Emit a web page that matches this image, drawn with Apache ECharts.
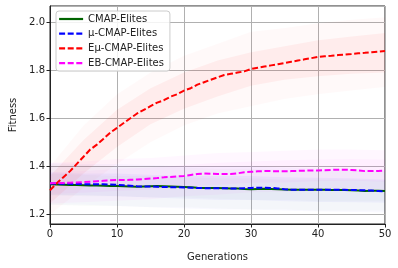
<!DOCTYPE html>
<html><head><meta charset="utf-8">
<script src="https://cdn.jsdelivr.net/npm/echarts@6/dist/echarts.min.js"></script>
<style>html,body{margin:0;padding:0;background:#fff}#c{width:398px;height:268px}</style>
</head><body><div id="c"></div>
<script>
// Generations (mean lines, one value per generation)
const generations = Array.from({length: 51}, (_, i) => i);
const cmapElites = [1.325,1.324,1.323,1.322,1.322,1.321,1.320,1.320,1.319,1.318,1.318,1.317,1.316,1.315,1.316,1.317,1.318,1.317,1.316,1.315,1.314,1.313,1.311,1.310,1.310,1.310,1.309,1.308,1.308,1.306,1.305,1.306,1.307,1.306,1.305,1.304,1.303,1.302,1.302,1.302,1.302,1.302,1.301,1.301,1.301,1.300,1.299,1.297,1.298,1.298,1.297];
const muCmapElites = [1.328,1.328,1.327,1.327,1.326,1.326,1.325,1.325,1.325,1.324,1.323,1.321,1.319,1.317,1.316,1.316,1.315,1.314,1.313,1.313,1.312,1.311,1.310,1.309,1.309,1.309,1.309,1.308,1.308,1.309,1.310,1.311,1.311,1.310,1.308,1.305,1.303,1.302,1.302,1.302,1.303,1.303,1.303,1.303,1.302,1.301,1.301,1.300,1.299,1.297,1.295];
const eMuCmapElites = [1.300,1.330,1.355,1.380,1.410,1.440,1.470,1.490,1.515,1.540,1.560,1.580,1.600,1.620,1.635,1.650,1.665,1.675,1.690,1.700,1.715,1.725,1.740,1.750,1.760,1.770,1.780,1.785,1.790,1.795,1.805,1.810,1.815,1.820,1.825,1.830,1.835,1.840,1.845,1.850,1.855,1.858,1.860,1.863,1.865,1.867,1.870,1.872,1.875,1.877,1.880];
const ebCmapElites = [1.330,1.331,1.331,1.332,1.333,1.334,1.336,1.338,1.340,1.342,1.343,1.343,1.344,1.345,1.347,1.349,1.351,1.354,1.356,1.358,1.360,1.364,1.368,1.370,1.369,1.368,1.368,1.368,1.371,1.375,1.377,1.379,1.380,1.380,1.379,1.379,1.380,1.381,1.382,1.383,1.383,1.384,1.385,1.386,1.386,1.385,1.383,1.380,1.380,1.381,1.382];

// Spread bands, sampled every 5 generations
const bandGenerations = [0,5,10,15,20,25,30,35,40,45,50];
const redInHi  = [1.36,1.51,1.635,1.725,1.79,1.84,1.875,1.90,1.925,1.94,1.955];
const redInLo  = [1.245,1.37,1.48,1.575,1.64,1.69,1.735,1.76,1.775,1.785,1.79];
const redOutHi = [1.40,1.57,1.70,1.79,1.86,1.91,1.96,1.975,1.995,2.01,2.02];
const redOutLo = [1.20,1.31,1.41,1.50,1.57,1.62,1.65,1.68,1.70,1.715,1.73];
const greenInHi  = [1.37,1.365,1.36,1.36,1.355,1.35,1.35,1.345,1.345,1.345,1.34];
const greenInLo  = [1.28,1.275,1.275,1.27,1.27,1.265,1.26,1.26,1.255,1.255,1.255];
const greenOutHi = [1.41,1.405,1.40,1.40,1.395,1.39,1.39,1.385,1.385,1.385,1.38];
const greenOutLo = [1.24,1.235,1.235,1.23,1.23,1.225,1.22,1.22,1.215,1.215,1.215];
const blueInHi  = [1.375,1.37,1.37,1.365,1.36,1.36,1.36,1.355,1.352,1.35,1.345];
const blueInLo  = [1.28,1.28,1.275,1.27,1.265,1.26,1.26,1.255,1.252,1.25,1.248];
const blueOutHi = [1.415,1.41,1.41,1.405,1.40,1.40,1.40,1.395,1.392,1.39,1.385];
const blueOutLo = [1.24,1.24,1.235,1.23,1.225,1.22,1.22,1.215,1.212,1.21,1.208];
const magInHi  = [1.375,1.38,1.39,1.395,1.405,1.415,1.42,1.425,1.428,1.43,1.428];
const magInLo  = [1.285,1.29,1.297,1.303,1.315,1.322,1.332,1.333,1.338,1.34,1.336];
const magOutHi = [1.415,1.42,1.43,1.435,1.445,1.455,1.46,1.465,1.47,1.47,1.467];
const magOutLo = [1.245,1.25,1.257,1.263,1.275,1.282,1.292,1.293,1.298,1.30,1.297];

function pairs(ys){ return generations.map((g,i)=>[g, ys[i]]); }

function band(lo, hi, fill){
  return {
    type: 'custom', silent: true, z: 1,
    data: [[bandGenerations[0], lo[0]]],
    renderItem: function(params, api){
      const pts = [];
      for (let i = 0; i < bandGenerations.length; i++) pts.push(api.coord([bandGenerations[i], hi[i]]));
      for (let i = bandGenerations.length - 1; i >= 0; i--) pts.push(api.coord([bandGenerations[i], lo[i]]));
      return {type: 'polygon', shape: {points: pts}, style: {fill: fill}};
    }
  };
}

function line(name, ys, color, dashed){
  return {
    name: name, type: 'line', data: pairs(ys), symbol: 'none', z: 3,
    lineStyle: {color: color, width: 2, type: dashed ? [6, 2.6] : 'solid'},
    itemStyle: {color: color}
  };
}

const font = 'DejaVu Sans';
const chart = echarts.init(document.getElementById('c'));
chart.setOption({
  animation: false,
  backgroundColor: '#fff',
  grid: {left: 50, right: 13, top: 6, bottom: 44, show: true, borderColor: '#222', borderWidth: 1, backgroundColor: 'transparent'},
  legend: {
    orient: 'vertical', left: 56, top: 11,
    data: ['CMAP-Elites','μ-CMAP-Elites','Eμ-CMAP-Elites','EB-CMAP-Elites'],
    backgroundColor: 'rgba(255,255,255,0.85)', borderColor: '#ccc', borderWidth: 1, borderRadius: 3,
    padding: [3, 6, 3, 2], itemGap: 4.7, itemWidth: 24, itemHeight: 10,
    itemStyle: {color: 'transparent', borderColor: 'transparent', borderWidth: 0, opacity: 0},
    lineStyle: {width: 2.2},
    textStyle: {fontFamily: font, fontSize: 10, color: '#222'}
  },
  xAxis: {
    type: 'value', min: 0, max: 50, interval: 10,
    name: 'Generations', nameLocation: 'middle', nameGap: 28,
    nameTextStyle: {fontFamily: font, fontSize: 10, color: '#222'},
    axisLine: {show: true, lineStyle: {color: '#222'}},
    axisTick: {show: true, length: 3.5, lineStyle: {color: '#222'}},
    axisLabel: {fontFamily: font, fontSize: 10, color: '#222', margin: 5},
    splitLine: {show: true, lineStyle: {color: '#b0b0b0', width: 1}}
  },
  yAxis: {
    type: 'value', min: 1.16, max: 2.067, splitNumber: 5,
    name: 'Fitness', nameLocation: 'middle', nameGap: 32,
    nameTextStyle: {fontFamily: font, fontSize: 10, color: '#222'},
    axisLine: {show: true, lineStyle: {color: '#222'}},
    axisTick: {show: true, length: 3.5, lineStyle: {color: '#222'}},
    axisLabel: {fontFamily: font, fontSize: 10, color: '#222', margin: 5, showMinLabel: false, showMaxLabel: false,
      formatter: v => v.toFixed(1)},
    splitLine: {show: true, lineStyle: {color: '#b0b0b0', width: 1}}
  },
  series: [
    band(greenOutLo, greenOutHi, 'rgba(0,100,0,0.02)'),
    band(greenInLo, greenInHi, 'rgba(0,100,0,0.02)'),
    band(blueOutLo, blueOutHi, 'rgba(0,0,255,0.025)'),
    band(blueInLo, blueInHi, 'rgba(0,0,255,0.035)'),
    band(redOutLo, redOutHi, 'rgba(255,0,0,0.025)'),
    band(redInLo, redInHi, 'rgba(255,0,0,0.05)'),
    band(magOutLo, magOutHi, 'rgba(255,0,255,0.03)'),
    band(magInLo, magInHi, 'rgba(255,0,255,0.03)'),
    line('CMAP-Elites', cmapElites, '#006400', false),
    line('μ-CMAP-Elites', muCmapElites, '#0000ff', true),
    line('Eμ-CMAP-Elites', eMuCmapElites, '#ff0000', true),
    line('EB-CMAP-Elites', ebCmapElites, '#ff00ff', true)
  ]
});
</script></body></html>
